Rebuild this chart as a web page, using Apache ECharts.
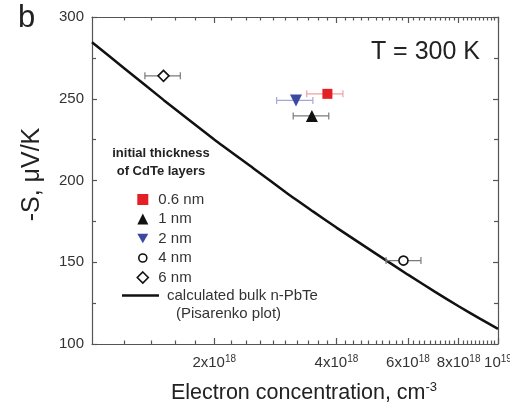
<!DOCTYPE html>
<html>
<head>
<meta charset="utf-8">
<script src="https://cdn.jsdelivr.net/npm/echarts@6/dist/echarts.min.js"></script>
<style>
  html, body { margin: 0; padding: 0; background: #ffffff; }
  #chart { width: 510px; height: 411px; }
</style>
</head>
<body>
<div id="chart"></div>
<script>
// Thermopower of PbTe/CdTe samples at 300 K versus electron concentration
const thicknessLabels = ['0.6 nm', '1 nm', '2 nm', '4 nm', '6 nm'];
const concentration     = [3.80e18, 3.48e18, 3.18e18, 5.85e18, 1.50e18]; // cm^-3
const concentrationLow  = [3.38e18, 3.13e18, 2.85e18, 5.30e18, 1.35e18];
const concentrationHigh = [4.15e18, 3.83e18, 3.50e18, 6.46e18, 1.65e18];
const seebeck           = [253, 239.5, 249, 151, 264];                    // -S, uV/K

// Calculated bulk n-PbTe (Pisarenko plot)
const pisarenkoN = [1.0e18, 1.2e18, 1.5e18, 2.0e18, 2.5e18, 3.0e18, 3.5e18,
                    4.0e18, 5.0e18, 6.0e18, 7.0e18, 8.0e18, 9.0e18, 1.0e19];
const pisarenkoS = [284.5, 268.7, 249.3, 225.1, 207.4, 192.8, 181.1,
                    171.2, 155.3, 142.4, 131.9, 123.1, 115.7, 109.3];

// Axis ticks
const xLabelValues = [2e18, 4e18, 6e18, 8e18, 1e19];
const xMinorTicks = [1.2e18, 1.4e18, 1.6e18, 1.8e18,
                     2.2e18, 2.4e18, 2.6e18, 2.8e18, 3.0e18, 3.2e18, 3.4e18, 3.6e18, 3.8e18,
                     4.2e18, 4.4e18, 4.6e18, 4.8e18, 5.0e18, 5.2e18, 5.4e18, 5.6e18, 5.8e18,
                     6.2e18, 6.4e18, 6.6e18, 6.8e18, 7.0e18, 7.2e18, 7.4e18, 7.6e18, 7.8e18,
                     8.2e18, 8.4e18, 8.6e18, 8.8e18, 9.0e18, 9.2e18, 9.4e18, 9.6e18, 9.8e18];

const FONT = '"Liberation Sans", Arial, sans-serif';
const AXIS_COLOR = '#555';
const TEXT_COLOR = '#333';
// legend icons drawn inside an 11x11 box
const DOWN_TRIANGLE_ICON = 'path://M0,0L12,0L6,10.4Z';
const SMALL_CIRCLE_ICON = 'path://M0,0M11,11M9.5,5.5A4,4,0,1,1,1.5,5.5A4,4,0,1,1,9.5,5.5Z';

const markerStyles = [
  { symbol: 'rect',     size: 10, rotate: 0,   color: '#e41f26', border: '#e41f26', bw: 0,   err: '#f2a0a3', icon: 'rect' },
  { symbol: 'triangle', size: 12, rotate: 0,   color: '#111111', border: '#111111', bw: 0,   err: '#7a7a7a', icon: 'triangle' },
  { symbol: 'triangle', size: 12, rotate: 180, color: '#3b4aa0', border: '#3b4aa0', bw: 0,   err: '#a3a9d9', icon: DOWN_TRIANGLE_ICON },
  { symbol: 'circle',   size: 9,  rotate: 0,   color: '#ffffff', border: '#111111', bw: 1.6, err: '#7a7a7a', icon: SMALL_CIRCLE_ICON },
  { symbol: 'diamond',  size: 11, rotate: 0,   color: '#ffffff', border: '#111111', bw: 1.6, err: '#7a7a7a', icon: 'diamond' }
];

function xLabel(value) {
  const m = value / 1e18;
  if (Math.abs(m - 10) < 0.01) return '{b|10}{s|19}';
  return '{b|' + Math.round(m) + 'x10}{s|18}';
}

const labelRich = {
  b: { fontSize: 15, fontFamily: FONT, color: TEXT_COLOR, lineHeight: 18 },
  s: { fontSize: 10, fontFamily: FONT, color: TEXT_COLOR, lineHeight: 10, verticalAlign: 'top' }
};

const lineStyle = { color: AXIS_COLOR, width: 1.2 };

const errorData = thicknessLabels.map((_, i) =>
  [concentrationLow[i], concentrationHigh[i], seebeck[i], i]);

const scatterSeries = thicknessLabels.map((name, i) => {
  const st = markerStyles[i];
  return {
    name: name,
    type: 'scatter',
    xAxisIndex: 0, yAxisIndex: 0,
    symbol: st.symbol,
    symbolSize: st.size,
    symbolRotate: st.rotate,
    itemStyle: { color: st.color, borderColor: st.border, borderWidth: st.bw, opacity: 1 },
    z: 5,
    data: [[concentration[i], seebeck[i]]]
  };
});

const legendItems = thicknessLabels.map((name, i) => {
  const st = markerStyles[i];
  return {
    name: name,
    icon: st.icon,
    itemStyle: { color: st.color, borderColor: st.border, borderWidth: st.bw }
  };
});

const chart = echarts.init(document.getElementById('chart'), null, { renderer: 'canvas' });

const gridBox = { left: 92, right: 12, top: 17, bottom: 67, outerBoundsMode: 'none', containLabel: false };

chart.setOption({
  animation: false,
  backgroundColor: '#ffffff',
  grid: [Object.assign({}, gridBox), Object.assign({}, gridBox)],
  xAxis: [
    {
      type: 'log', logBase: 10, gridIndex: 0, position: 'bottom',
      min: 1e18, max: 1e19,
      axisLine: { show: true, lineStyle: lineStyle },
      axisTick: { show: true, inside: true, length: 6, customValues: xLabelValues, lineStyle: lineStyle },
      axisLabel: { show: true, customValues: xLabelValues, margin: 10, formatter: xLabel, rich: labelRich, hideOverlap: false },
      splitLine: { show: false },
      name: '{t|Electron concentration, cm}{s|-3}',
      nameLocation: 'middle', nameGap: 37,
      nameTextStyle: {
        padding: [0, 0, 0, 18],
        rich: {
          t: { fontSize: 21.5, fontFamily: FONT, color: '#222', lineHeight: 24 },
          s: { fontSize: 13, fontFamily: FONT, color: '#222', lineHeight: 13, verticalAlign: 'top' }
        }
      }
    },
    {
      type: 'log', logBase: 10, gridIndex: 0, position: 'top',
      min: 1e18, max: 1e19,
      axisLine: { show: true, lineStyle: lineStyle },
      axisTick: { show: true, inside: true, length: 6, customValues: xLabelValues, lineStyle: lineStyle },
      axisLabel: { show: false },
      splitLine: { show: false }
    },
    {
      type: 'log', logBase: 10, gridIndex: 1, position: 'bottom',
      min: 1e18, max: 1e19,
      axisLine: { show: false },
      axisTick: { show: true, inside: true, length: 3.5, customValues: xMinorTicks, lineStyle: lineStyle },
      axisLabel: { show: false },
      splitLine: { show: false }
    },
    {
      type: 'log', logBase: 10, gridIndex: 1, position: 'top',
      min: 1e18, max: 1e19,
      axisLine: { show: false },
      axisTick: { show: true, inside: true, length: 3.5, customValues: xMinorTicks, lineStyle: lineStyle },
      axisLabel: { show: false },
      splitLine: { show: false }
    }
  ],
  yAxis: [
    {
      type: 'value', gridIndex: 0, position: 'left',
      min: 100, max: 300, interval: 50,
      axisLine: { show: true, lineStyle: lineStyle },
      axisTick: { show: true, inside: true, length: 5, lineStyle: lineStyle },
      minorTick: { show: true, splitNumber: 2, length: 4, lineStyle: lineStyle },
      axisLabel: { show: true, margin: 8, fontSize: 15, fontFamily: FONT, color: TEXT_COLOR },
      splitLine: { show: false },
      name: '-S, \u03BCV/K',
      nameLocation: 'middle', nameGap: 47, nameRotate: 90,
      nameTextStyle: { fontSize: 25, fontFamily: FONT, color: '#222', padding: [0, 0, 0, 12] }
    },
    {
      type: 'value', gridIndex: 0, position: 'right',
      min: 100, max: 300, interval: 50,
      axisLine: { show: true, lineStyle: lineStyle },
      axisTick: { show: true, inside: true, length: 5, lineStyle: lineStyle },
      minorTick: { show: true, splitNumber: 2, length: 4, lineStyle: lineStyle },
      axisLabel: { show: false },
      splitLine: { show: false }
    },
    {
      type: 'value', gridIndex: 1, min: 100, max: 300, show: false
    }
  ],
  legend: [
    {
      data: legendItems,
      orient: 'vertical',
      left: 136.5, top: 192,
      itemWidth: 11, itemHeight: 11, itemGap: 4.5,
      padding: 0,
      selectedMode: false,
      textStyle: { fontSize: 15, fontFamily: FONT, color: TEXT_COLOR, padding: [0, 0, 0, 5] }
    },
    {
      data: [{ name: 'calculated bulk n-PbTe', icon: 'rect', itemStyle: { color: '#111' } }],
      orient: 'vertical',
      left: 122, top: 288,
      itemWidth: 37, itemHeight: 2.5,
      padding: 0,
      selectedMode: false,
      symbolKeepAspect: false,
      textStyle: { fontSize: 15, fontFamily: FONT, color: TEXT_COLOR, padding: [0, 0, 0, 3] }
    }
  ],
  graphic: [
    { type: 'text', x: 18, y: 3, style: { text: 'b', font: '31px ' + FONT, fill: '#222' } },
    { type: 'text', x: 480, y: 52, style: { text: 'T = 300 K', font: '25px ' + FONT, fill: '#222', align: 'right', textAlign: 'right', verticalAlign: 'middle', textVerticalAlign: 'middle' } },
    { type: 'text', x: 161, y: 153, style: { text: 'initial thickness', font: 'bold 13px ' + FONT, fill: '#222', align: 'center', textAlign: 'center', verticalAlign: 'middle', textVerticalAlign: 'middle' } },
    { type: 'text', x: 161, y: 171, style: { text: 'of CdTe layers', font: 'bold 13px ' + FONT, fill: '#222', align: 'center', textAlign: 'center', verticalAlign: 'middle', textVerticalAlign: 'middle' } },
    { type: 'text', x: 176, y: 314, style: { text: '(Pisarenko plot)', font: '15px ' + FONT, fill: TEXT_COLOR, verticalAlign: 'middle', textVerticalAlign: 'middle' } }
  ],
  series: [
    {
      name: 'calculated bulk n-PbTe',
      type: 'line',
      xAxisIndex: 0, yAxisIndex: 0,
      symbol: 'none',
      smooth: 0.2,
      lineStyle: { color: '#111', width: 2.5 },
      itemStyle: { color: '#111' },
      z: 3,
      data: pisarenkoN.map((n, i) => [n, pisarenkoS[i]])
    },
    {
      name: 'error bars',
      type: 'custom',
      xAxisIndex: 0, yAxisIndex: 0,
      z: 4,
      encode: { x: [0, 1], y: 2 },
      renderItem: function (params, api) {
        const y = api.value(2);
        const p1 = api.coord([api.value(0), y]);
        const p2 = api.coord([api.value(1), y]);
        const color = markerStyles[api.value(3)].err;
        const st = { stroke: color, lineWidth: 1.2 };
        const cap = 3.5;
        return {
          type: 'group',
          children: [
            { type: 'line', shape: { x1: p1[0], y1: p1[1], x2: p2[0], y2: p2[1] }, style: st },
            { type: 'line', shape: { x1: p1[0], y1: p1[1] - cap, x2: p1[0], y2: p1[1] + cap }, style: st },
            { type: 'line', shape: { x1: p2[0], y1: p2[1] - cap, x2: p2[0], y2: p2[1] + cap }, style: st }
          ]
        };
      },
      data: errorData
    }
  ].concat(scatterSeries)
});
</script>
</body>
</html>
